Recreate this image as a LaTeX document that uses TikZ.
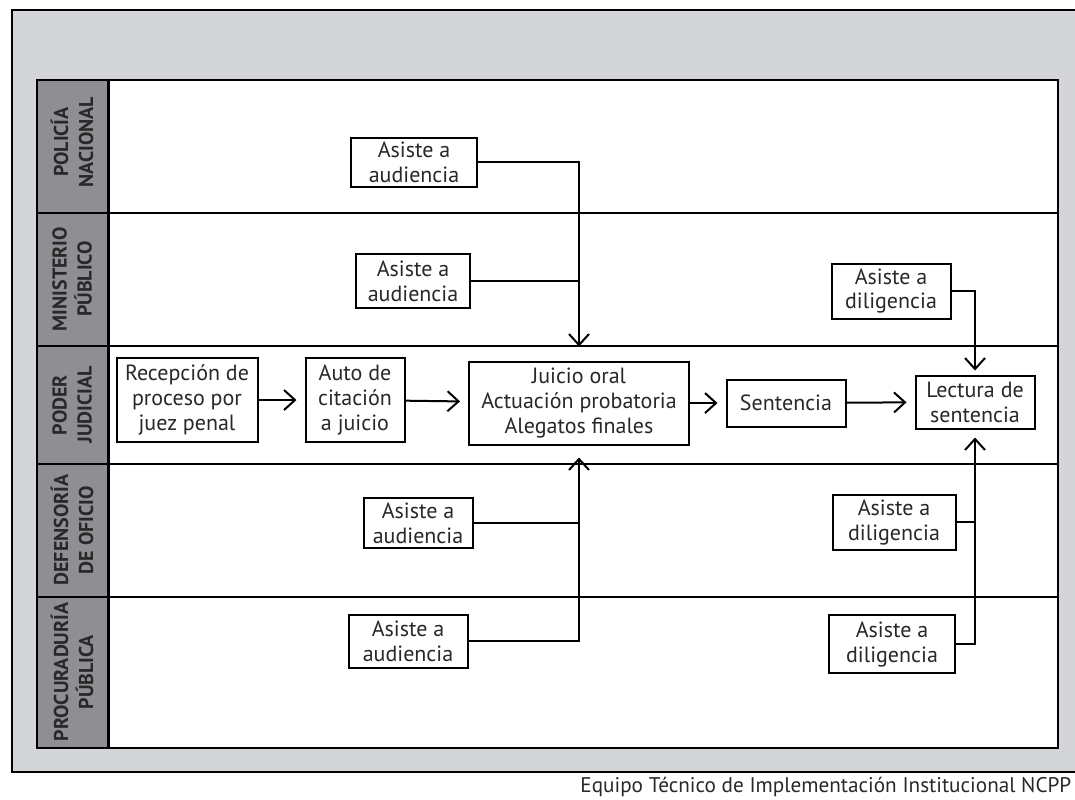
\documentclass[tikz,border=0pt]{standalone}
\usepackage{fontspec}
\setmainfont{PT Sans}
\usetikzlibrary{arrows.meta}
\definecolor{fondo}{RGB}{211,213,216}
\definecolor{carril}{RGB}{142,142,147}
\definecolor{tinta}{RGB}{40,40,40}

\begin{document}
\begin{tikzpicture}[x=0.5pt, y=-0.5pt,
    caja/.style={draw, line width=1pt, fill=white, align=center, inner sep=0pt,
      font=\fontsize{11}{12.5}\selectfont, text=tinta},
    etiqueta/.style={rotate=90, align=center, inner sep=0pt,
      font=\fontsize{10}{12.5}\selectfont\bfseries, text=tinta},
    flecha/.style={line width=1pt, -{Straight Barb[length=5.5pt,width=10pt]}, shorten >=4pt}]
    \useasboundingbox (0,0) rectangle (1075,799);
    \clip (0,0) rectangle (1075,799);

    \filldraw [fill=fondo, line width=1.2pt] (12,10) rectangle (1095,772);
    \filldraw [fill=white, line width=1pt] (108,80) rectangle (1058,748);
    \filldraw [fill=carril, line width=1pt] (37,80) rectangle (108,748);
    \draw [line width=1.5pt] (108,80) -- (108,748);
    \foreach \y in {213,346,464,597}
      \draw [line width=1pt] (37,\y) -- (1058,\y);

    \node [etiqueta] (lab_pn) at (72,142) {POLICÍA\\NACIONAL};
    \node [etiqueta] (lab_mp) at (72,279) {MINISTERIO\\PÚBLICO};
    \node [etiqueta] (lab_pj) at (72,405) {PODER\\JUDICIAL};
    \node [etiqueta] (lab_do) at (72,530) {DEFENSORÍA\\DE OFICIO};
    \node [etiqueta] (lab_pp) at (72,672) {PROCURADURÍA\\PÚBLICA};

    \node [caja, minimum width=63pt, minimum height=24.5pt] (pn_aud) at (414,162) {Asiste a\\audiencia};
    \node [caja, minimum width=57pt, minimum height=27pt] (mp_aud) at (413,281) {Asiste a\\audiencia};
    \node [caja, minimum width=59.5pt, minimum height=27.5pt] (mp_dil) at (891,291) {Asiste a\\diligencia};
    \node [caja, minimum width=70.5pt, minimum height=42pt] (recep) at (187,400) {Recepción de\\proceso por\\juez penal};
    \node [caja, minimum width=49.5pt, minimum height=42pt] (auto) at (355,400) {Auto de\\citación\\a juicio};
    \node [caja, minimum width=110pt, minimum height=41.5pt] (juicio) at (579,403) {Juicio oral\\Actuación probatoria\\Alegatos finales};
    \node [caja, minimum width=59.5pt, minimum height=23.5pt] (sent) at (786,403) {Sentencia};
    \node [caja, minimum width=59.5pt, minimum height=26.5pt] (lect) at (975,402) {Lectura de\\sentencia};
    \node [caja, minimum width=54.5pt, minimum height=25pt] (do_aud) at (418,523) {Asiste a\\audiencia};
    \node [caja, minimum width=61.5pt, minimum height=27.5pt] (do_dil) at (894,522) {Asiste a\\diligencia};
    \node [caja, minimum width=59.5pt, minimum height=26.5pt] (pp_aud) at (408,641) {Asiste a\\audiencia};
    \node [caja, minimum width=63pt, minimum height=29pt] (pp_dil) at (892,644) {Asiste a\\diligencia};

    \draw [flecha] (recep) -- (auto);
    \draw [flecha] (auto) -- (juicio);
    \draw [flecha] (juicio) -- (sent);
    \draw [flecha] (sent) -- (lect);

    \draw [flecha, shorten >=7pt] (pn_aud.east) -| (juicio.north);
    \draw [line width=1pt] (mp_aud.east) -- (mp_aud.east -| juicio.north);
    \draw [flecha, shorten >=6pt] (pp_aud.east) -| (juicio.south);
    \draw [line width=1pt] (do_aud.east) -- (do_aud.east -| juicio.south);

    \draw [flecha, shorten >=2pt] (mp_dil.east) -| (lect.north);
    \draw [flecha] (pp_dil.east) -| (lect.south);
    \draw [line width=1pt] (do_dil.east) -- (do_dil.east -| lect.south);

    \node [anchor=base west, inner sep=0pt, font=\fontsize{10.6}{12.5}\selectfont, text=tinta]
      (pie) at (580,792) {Equipo Técnico de Implementación Institucional NCPP};
  \end{tikzpicture}
\end{document}
